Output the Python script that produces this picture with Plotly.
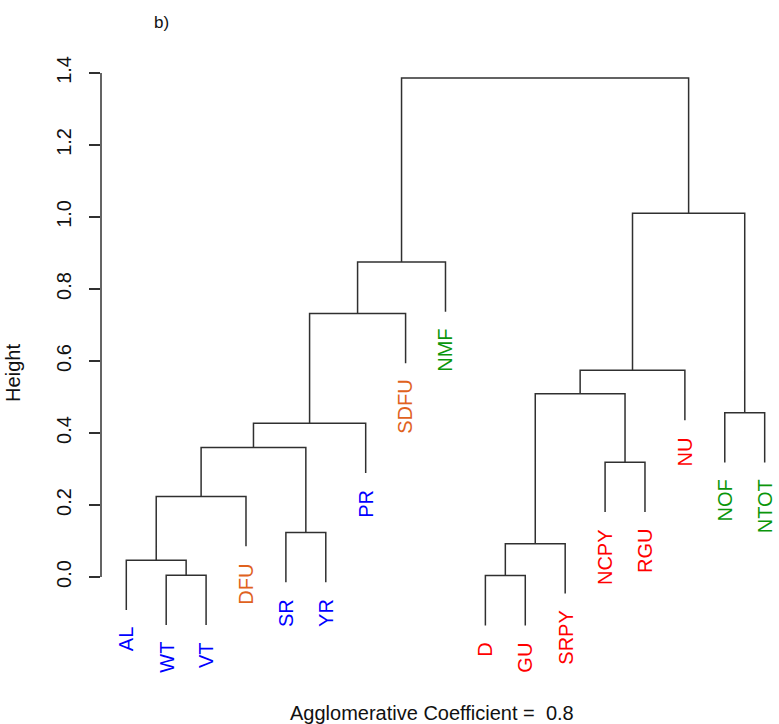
import plotly.graph_objects as go

# Leaves of the agglomerative clustering, in dendrogram order
labels = ["AL", "WT", "VT", "DFU", "SR", "YR", "PR", "SDFU", "NMF",
          "D", "GU", "SRPY", "NCPY", "RGU", "NU", "NOF", "NTOT"]
label_colors = ["#0000FF", "#0000FF", "#0000FF", "#E0621E", "#0000FF", "#0000FF",
                "#0000FF", "#E0621E", "#0B960B", "#FF0000", "#FF0000", "#FF0000",
                "#FF0000", "#FF0000", "#FF0000", "#0B960B", "#0B960B"]

# Merge table (R convention: negative = leaf number, positive = earlier merge step)
merge_left = [-2, -10, -1, 2, -5, 3, -13, 6, 8, -16, 4, 11, 9, 13, 12, 14]
merge_right = [-3, -11, 1, -12, -6, -4, -14, 5, -7, -17, 7, -15, -8, -9, 10, 15]
merge_height = [0.005, 0.004, 0.047, 0.0925, 0.124, 0.224, 0.319, 0.360,
                0.427, 0.456, 0.509, 0.574, 0.732, 0.875, 1.010, 1.386]

y_ticks = [0.0, 0.2, 0.4, 0.6, 0.8, 1.0, 1.2, 1.4]
coef_text = "Agglomerative Coefficient =  0.8"
panel_tag = "b)"

hang = 0.1 * (max(merge_height) - min(merge_height))

# leaf positions follow the order of the labels list
leaf_x = {i + 1: float(i + 1) for i in range(len(labels))}
node_x = {}


def xpos(ref):
    return leaf_x[-ref] if ref < 0 else node_x[ref]


for k, (a, b) in enumerate(zip(merge_left, merge_right), start=1):
    node_x[k] = (xpos(a) + xpos(b)) / 2.0

xs, ys = [], []
leaf_bottom = {}
for k, (a, b, h) in enumerate(zip(merge_left, merge_right, merge_height), start=1):
    pts = []
    for ref in (a, b):
        if ref < 0:
            low = h - hang
            leaf_bottom[-ref] = low
        else:
            low = merge_height[ref - 1]
        pts.append((xpos(ref), low))
    (xa, ya), (xb, yb) = pts
    xs += [xa, xa, xb, xb, None]
    ys += [ya, h, h, yb, None]

fig = go.Figure()
fig.add_trace(go.Scatter(x=xs, y=ys, mode="lines",
                         line=dict(color="#303030", width=1.5),
                         hoverinfo="skip", showlegend=False))

font_family = "Liberation Sans, Arial, sans-serif"
annotations = []
for i, (lab, col) in enumerate(zip(labels, label_colors), start=1):
    annotations.append(dict(x=leaf_x[i], y=leaf_bottom[i], xref="x", yref="y",
                            text=lab, showarrow=False, textangle=-90,
                            xanchor="center", yanchor="top", yshift=-15,
                            font=dict(family=font_family, size=20, color=col)))

annotations += [
    dict(x=-0.130, y=0.4645, xref="paper", yref="paper", text="Height",
         showarrow=False, textangle=-90, xanchor="center", yanchor="middle",
         font=dict(family=font_family, size=20, color="#111111")),
    dict(x=0.488, y=-0.11, xref="paper", yref="paper", text=coef_text,
         showarrow=False, xanchor="center", yanchor="middle",
         font=dict(family=font_family, size=20, color="#111111")),
    dict(x=0.0885, y=1.057, xref="paper", yref="paper", text=panel_tag,
         showarrow=False, xanchor="center", yanchor="middle",
         font=dict(family=font_family, size=17, color="#111111")),
]

# y axis line spans only the labelled tick range
shapes = [dict(type="line", xref="paper", yref="y", x0=0, x1=0,
               y0=y_ticks[0], y1=y_ticks[-1],
               line=dict(color="#303030", width=1.5))]

fig.update_layout(
    width=779, height=724,
    margin=dict(l=101, r=0, t=56, b=76),
    paper_bgcolor="white", plot_bgcolor="white",
    annotations=annotations, shapes=shapes,
    xaxis=dict(range=[0.366, 17.359], visible=False, fixedrange=True),
    yaxis=dict(range=[-0.197, 1.447], showgrid=False, zeroline=False,
               showline=False, ticks="outside", ticklen=11, tickwidth=1.5,
               tickcolor="#303030", tickvals=y_ticks,
               ticktext=[f"{v:.1f}" for v in y_ticks], tickangle=-90,
               ticklabelstandoff=10,
               tickfont=dict(family=font_family, size=20, color="#111111")),
)

fig.write_html("out.html")
